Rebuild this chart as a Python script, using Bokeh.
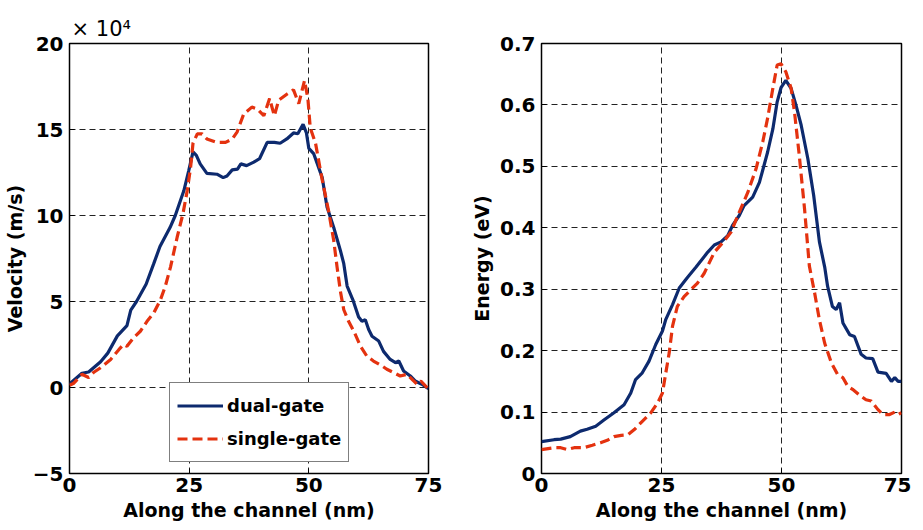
from bokeh.plotting import figure
from bokeh.layouts import row
from bokeh.models import Range1d, FixedTicker, Legend, LegendItem, Title
from bokeh.embed import file_html
from bokeh.resources import INLINE

# ---- data ----
x_vel_dual = [0, 2.6, 4, 6.5, 8, 10, 12, 12.8, 14, 16, 17.6, 18.9, 21, 22.1, 23.9, 24.9, 25.8, 26.5, 27.3,
              28.7, 30.8, 32.1, 32.9, 34, 35.1, 35.8, 37, 38.5, 39.7, 41.3, 42.8, 44, 45.4, 46.8, 47.7, 48.8,
              49.5, 50, 51, 52.8, 53.8, 55.2, 56.6, 57.3, 58, 59.2, 60.4, 61.1, 61.8, 62.5, 63.2, 64.6,
              65.6, 67, 68.1, 68.8, 69.8, 71.2, 72.2, 73.6, 75]
vel_dual = [0.2, 0.83, 0.9, 1.5, 2.0, 3.0, 3.6, 4.5, 5.0, 6.0, 7.2, 8.2, 9.3, 10.0, 11.45, 12.6, 13.7, 13.5, 13.0,
            12.45, 12.4, 12.2, 12.3, 12.65, 12.7, 13.0, 12.9, 13.1, 13.3, 14.25, 14.25, 14.2, 14.45, 14.8, 14.75,
            15.3, 14.8, 13.9, 13.6, 12.2, 10.5, 9.3, 7.96, 7.2, 5.9, 5.1, 4.1, 3.85, 3.94, 3.37, 2.98, 2.7,
            2.1, 1.63, 1.44, 1.54, 0.96, 0.67, 0.38, 0.19, -0.06]

x_vel_single = [0, 0.9, 2.6, 4, 5, 6.5, 8.6, 10.3, 11.3, 12, 13.4, 14.8, 16.2, 17.6, 19, 20, 21.1, 22.5, 23.7,
                24.6, 25.3, 25.8, 26.7, 27.7, 28.7, 30.8, 32.6, 34, 35, 36.4, 38.1, 39.2, 40.6, 41.8, 42.8,
                43.7, 45.4, 46.8, 47.9, 49.1, 49.8, 50.3, 51.4, 52.7, 54.1, 55.2, 55.9, 56.6, 57.3, 58.3,
                59.4, 60.8, 62.1, 63.5, 65.3, 66.3, 67.7, 69.1, 70.5, 71.9, 72.6, 73.4, 75]
vel_single = [0.13, 0.25, 0.77, 0.58, 0.87, 1.15, 1.63, 2.2, 2.5, 2.4, 2.9, 3.27, 3.85, 4.33, 5.1, 5.87, 7.0, 8.75,
              10.1, 11.45, 12.8, 14.2, 14.75, 14.75, 14.45, 14.25, 14.25, 14.45, 14.85, 15.9, 16.3, 16.2, 15.8,
              16.8, 15.8, 16.7, 17.05, 17.3, 16.5, 17.85, 16.8, 15.1, 14.2, 12.2, 10.3, 8.55, 7.0, 5.58, 4.52,
              3.85, 3.27, 2.4, 1.83, 1.54, 1.25, 1.06, 0.87, 0.67, 0.77, 0.38, 0.19, 0.38, -0.1]

x_en_dual = [0, 2.6, 4, 6, 8.1, 9.5, 11.3, 13, 15.1, 17.2, 18.6, 19.6, 21, 22.4, 23.8, 25.2, 25.9, 27.3, 28.7,
             30.4, 32.2, 34.6, 36, 37.4, 38.8, 39.8, 41.2, 42.2, 44, 45.4, 47.1, 48.2, 49.1, 49.9, 50.9, 52,
             53, 54.1, 55.5, 56.7, 57.9, 59, 59.6, 60.6, 61.4, 62.1, 62.8, 64.2, 65.2, 66.6, 67.6, 69, 70.1,
             71.8, 72.9, 73.6, 74.3, 75]
en_dual = [0.052, 0.055, 0.056, 0.06, 0.069, 0.072, 0.077, 0.087, 0.099, 0.112, 0.131, 0.153, 0.164, 0.183, 0.21,
           0.232, 0.251, 0.275, 0.302, 0.319, 0.336, 0.36, 0.372, 0.377, 0.387, 0.404, 0.42, 0.436, 0.45, 0.474,
           0.523, 0.561, 0.605, 0.628, 0.64, 0.627, 0.6, 0.567, 0.512, 0.453, 0.377, 0.336, 0.305, 0.272, 0.267,
           0.278, 0.245, 0.226, 0.223, 0.194, 0.188, 0.187, 0.165, 0.163, 0.15, 0.156, 0.15, 0.15]

x_en_single = [0, 2.6, 4, 5.4, 6.8, 8.8, 10.6, 12.3, 13.7, 15.1, 16.6, 18, 19.4, 21, 22.8, 24.2, 25.2, 25.9,
               26.6, 27.3, 28.3, 29.7, 31.1, 32.5, 33.9, 36, 38.1, 39.5, 40.9, 43, 44.7, 46.1, 47.1, 48.2,
               49.1, 49.9, 50.9, 52, 52.7, 53.7, 54.8, 55.8, 56.9, 57.9, 59, 60.4, 61.7, 62.8, 63.8, 64.8,
               66.2, 67.6, 68.7, 70.1, 71.1, 72.5, 73.6, 74.3, 75]
en_single = [0.039, 0.042, 0.042, 0.039, 0.042, 0.042, 0.046, 0.05, 0.054, 0.06, 0.062, 0.063, 0.072, 0.085, 0.099,
             0.115, 0.131, 0.164, 0.196, 0.24, 0.272, 0.288, 0.299, 0.31, 0.326, 0.36, 0.379, 0.393, 0.42, 0.458,
             0.496, 0.54, 0.578, 0.627, 0.665, 0.667, 0.654, 0.627, 0.589, 0.518, 0.431, 0.338, 0.294, 0.25,
             0.212, 0.18, 0.161, 0.156, 0.142, 0.137, 0.128, 0.12, 0.118, 0.104, 0.096, 0.096, 0.1, 0.096, 0.099]

x_ticks = [0, 25, 50, 75]
vel_ticks = [-5, 0, 5, 10, 15, 20]
en_ticks = [0, 0.1, 0.2, 0.3, 0.4, 0.5, 0.6, 0.7]
en_tick_labels = ["0", "0.1", "0.2", "0.3", "0.4", "0.5", "0.6", "0.7"]
series_names = ["dual-gate", "single-gate"]
vel_scale_text = "× 10⁴"

BLUE = "#0d2a6e"
RED = "#e4320f"
FONT = "DejaVu Sans"


def style(p, yticks):
    p.outline_line_color = "black"
    p.outline_line_width = 1.5
    p.background_fill_color = "white"
    p.border_fill_color = "white"
    p.xaxis.ticker = FixedTicker(ticks=x_ticks)
    p.yaxis.ticker = FixedTicker(ticks=yticks)
    for ax in (p.xaxis, p.yaxis):
        ax.major_label_text_font = FONT
        ax.major_label_text_font_style = "bold"
        ax.major_label_text_font_size = "20px"
        ax.major_label_text_color = "black"
        ax.axis_label_text_font = FONT
        ax.axis_label_text_font_style = "bold"
        ax.axis_label_text_font_size = "19px"
        ax.axis_label_text_color = "black"
        ax.axis_line_color = None
        ax.major_tick_in = 5
        ax.major_tick_out = 0
        ax.major_tick_line_color = "black"
        ax.minor_tick_line_color = None
        ax.major_label_standoff = 6
        ax.axis_label_standoff = 4
    p.xaxis.axis_label = "Along the channel (nm)"
    p.xaxis.axis_label_standoff = 4
    p.xaxis.major_label_standoff = 4
    for g in (p.xgrid, p.ygrid):
        g.grid_line_color = "#222222"
        g.grid_line_dash = "6 4"
        g.grid_line_width = 1


p1 = figure(output_backend="svg", toolbar_location=None,
            frame_width=359, frame_height=430,
            min_border_left=65, min_border_right=20, min_border_top=43, min_border_bottom=54,
            x_range=Range1d(0, 75), y_range=Range1d(-5, 20))
style(p1, vel_ticks)
p1.yaxis.axis_label = "Velocity (m/s)"
r1 = p1.line(x_vel_dual, vel_dual, line_color=BLUE, line_width=3.2)
r2 = p1.line(x_vel_single, vel_single, line_color=RED, line_width=3.2, line_dash="10 5")

legend = Legend(items=[LegendItem(label=series_names[0], renderers=[r1]),
                       LegendItem(label=series_names[1], renderers=[r2])],
                location=(100, 11))
legend.border_line_color = "black"
legend.border_line_width = 1.5
legend.background_fill_color = "white"
legend.background_fill_alpha = 1
legend.label_text_font = FONT
legend.label_text_font_style = "bold"
legend.label_text_font_size = "18px"
legend.label_text_color = "black"
legend.glyph_width = 46
legend.glyph_height = 31
legend.label_height = 31
legend.label_standoff = 4
legend.spacing = 2
legend.padding = 7
legend.margin = 0
p1.add_layout(legend, "center")

p1.add_layout(Title(text=vel_scale_text, align="left", offset=2, standoff=6,
                    text_font=FONT, text_font_size="21px", text_font_style="normal",
                    text_color="black"), "above")

p2 = figure(output_backend="svg", toolbar_location=None,
            frame_width=360, frame_height=430,
            min_border_left=93, min_border_right=10, min_border_top=43, min_border_bottom=54,
            x_range=Range1d(0, 75), y_range=Range1d(0, 0.7))
style(p2, en_ticks)
p2.yaxis.major_label_overrides = {t: s for t, s in zip(en_ticks, en_tick_labels)}
p2.yaxis.axis_label = "Energy (eV)"
p2.line(x_en_dual, en_dual, line_color=BLUE, line_width=3.2)
p2.line(x_en_single, en_single, line_color=RED, line_width=3.2, line_dash="10 5")

layout = row(p1, p2)
open("out.html", "w").write(file_html(layout, INLINE))
